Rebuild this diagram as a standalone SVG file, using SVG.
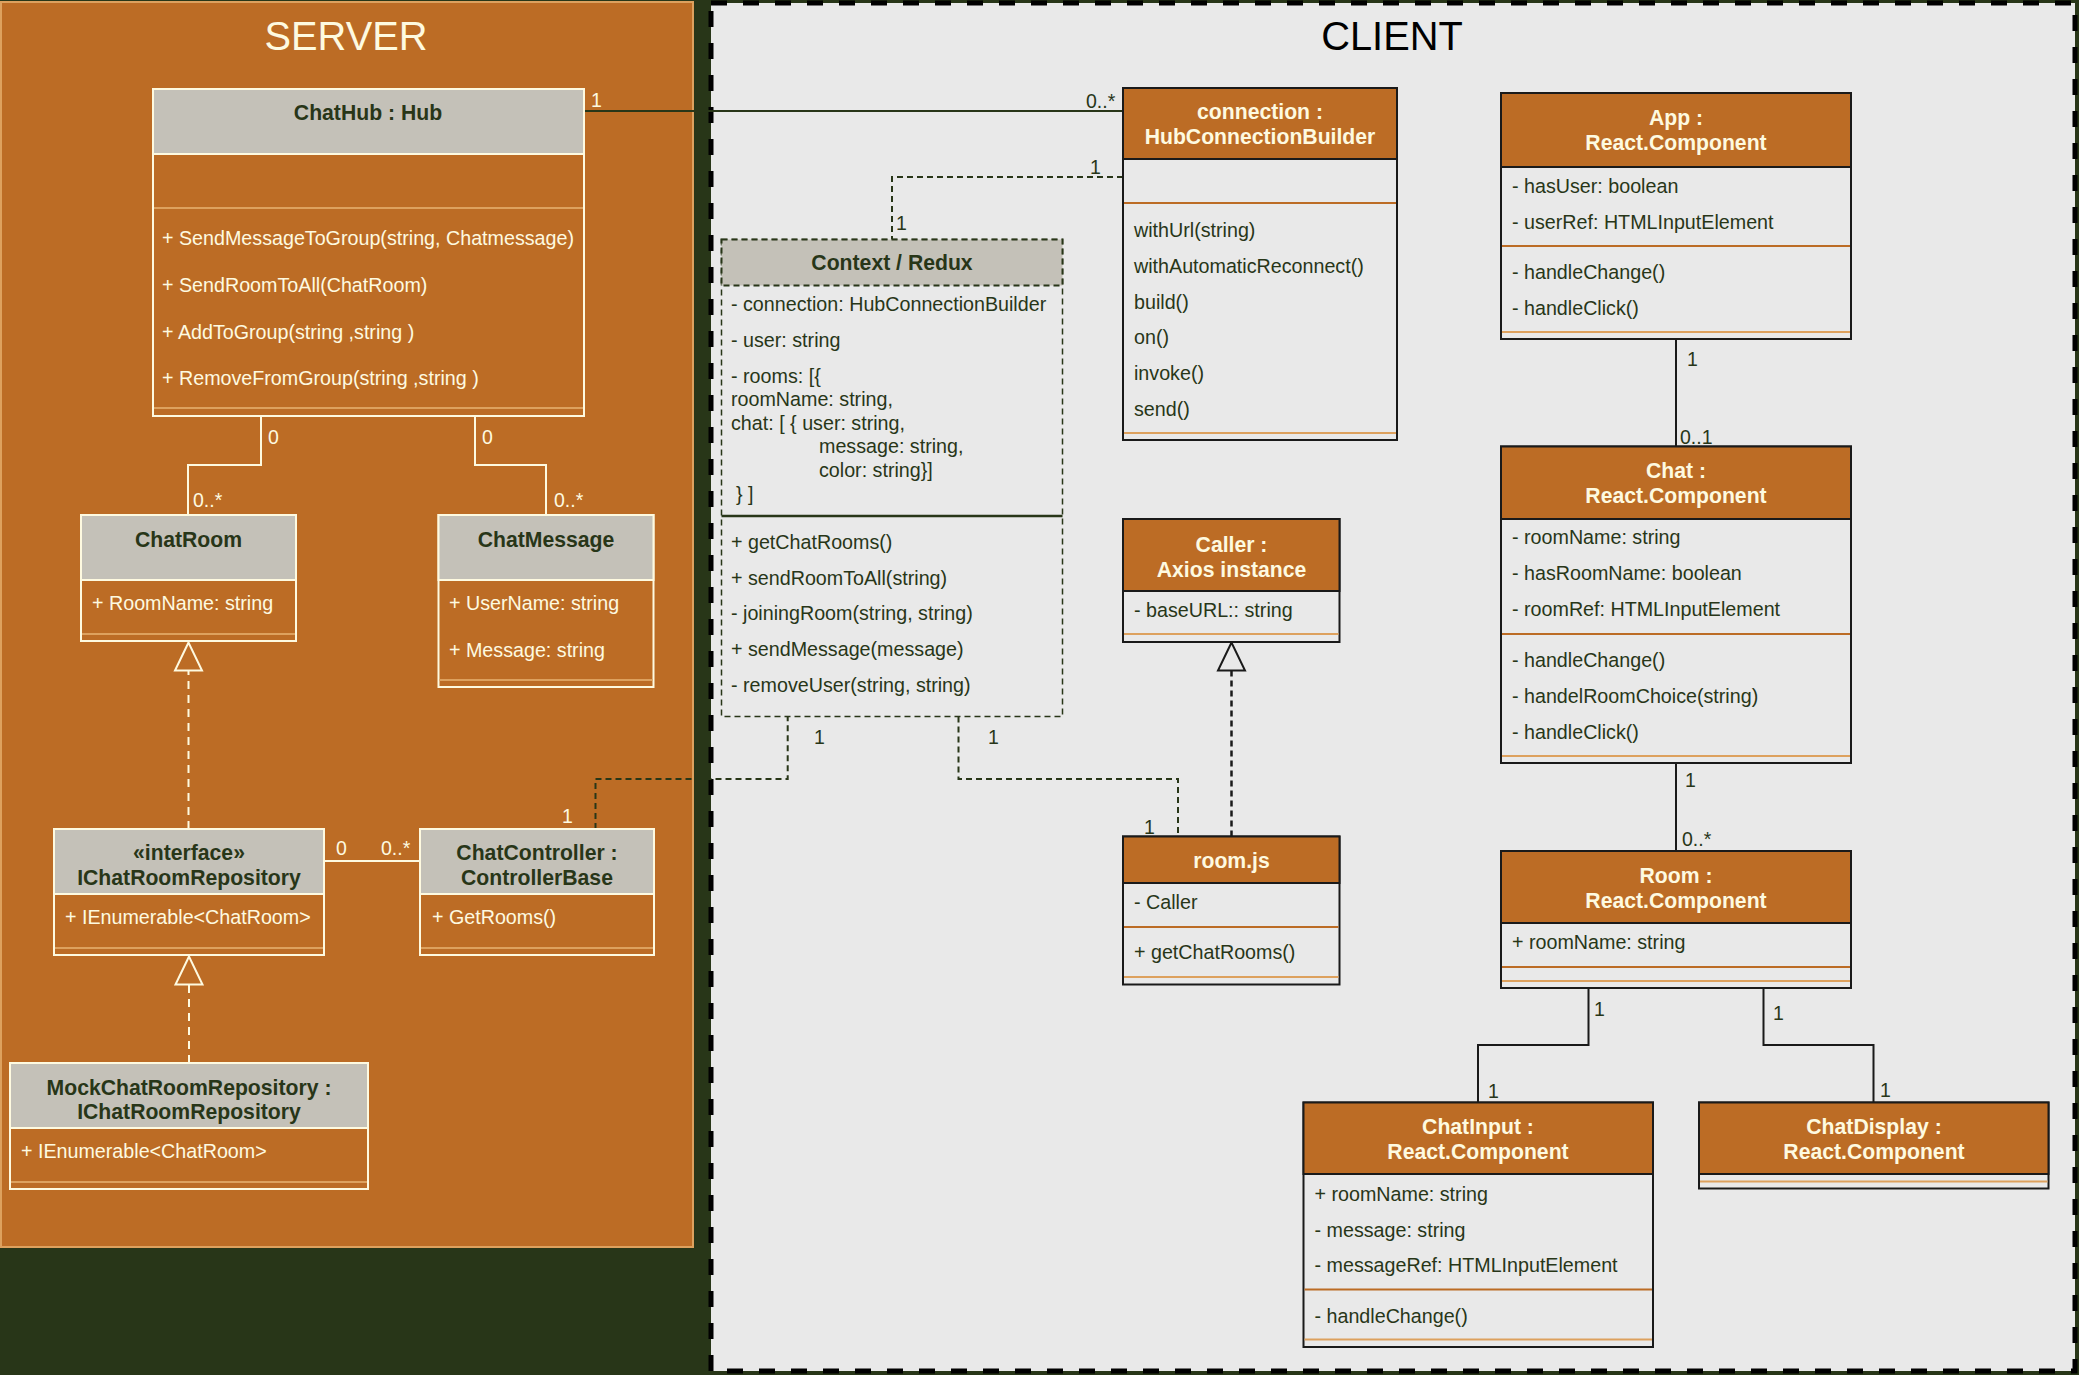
<svg xmlns="http://www.w3.org/2000/svg" width="2079" height="1375" viewBox="0 0 2079 1375">
<style>
text{font-family:"Liberation Sans",Arial,sans-serif}
.t{font-size:19.7px}
.h{font-size:21.2px;font-weight:bold;text-anchor:middle}
.lbl{font-size:19.5px}
.sbox{fill:#bc6c25;stroke:#fefae0;stroke-width:2}
.shead{fill:#c4c1b8;stroke:#fefae0;stroke-width:2}
.ssep{stroke:#dda15e;stroke-width:2}
.st{fill:#fefae0}
.sh{fill:#283618}
.cbox{fill:#e9e9e9;stroke:#1a1a1a;stroke-width:2}
.chead{fill:#bc6c25;stroke:#1a1a1a;stroke-width:2}
.csep{stroke:#bc6c25;stroke-width:2}
.csep2{stroke:#dda15e;stroke-width:2}
.ct{fill:#283618}
.ch{fill:#fefae0}
.e-s{fill:none;stroke:#fefae0;stroke-width:2}
.e-sd{fill:none;stroke:#fefae0;stroke-width:2;stroke-dasharray:8 6}
.e-c{fill:none;stroke:#1a1a1a;stroke-width:2}
.e-g{fill:none;stroke:#283618;stroke-width:2}
.e-gd{fill:none;stroke:#283618;stroke-width:2;stroke-dasharray:6 4}
.e-kd{fill:none;stroke:#1a1a1a;stroke-width:2.5;stroke-dasharray:6 4}
</style>
<rect x="0" y="0" width="2079" height="1375" fill="#283618"/>
<g id="server-area">
<rect x="1" y="2" width="692" height="1245" fill="#bc6c25" stroke="#dda15e" stroke-width="2"/>
<text x="346" y="50" font-size="39.8" text-anchor="middle" fill="#fefae0">SERVER</text>
</g>
<g id="client-area">
<rect x="711" y="3" width="1364" height="1368" fill="#e9e9e9" stroke="#000" stroke-width="5" stroke-dasharray="16 16"/>
<text x="1392" y="50" font-size="39.8" text-anchor="middle" fill="#000">CLIENT</text>
</g>

<g id="connectors">
<path class="e-g" d="M584,111 H1123"/>
<path class="e-gd" d="M1123,177 H892 V239.5"/>
<path class="e-s" d="M261,416 V465 H188 V515"/>
<path class="e-s" d="M475,416 V465 H546 V515"/>
<path class="e-sd" d="M188.5,829 V670.5"/>
<polygon points="188.5,642.5 175,670.5 202,670.5" fill="#bc6c25" stroke="#fefae0" stroke-width="2"/>
<path class="e-sd" d="M189,1063 V984.5"/>
<polygon points="189,956.5 175.5,984.5 202.5,984.5" fill="#bc6c25" stroke="#fefae0" stroke-width="2"/>
<path class="e-s" d="M324,861 H420"/>
<path class="e-gd" d="M595.5,829 V779 H787.7 V716.5"/>
<path class="e-gd" d="M958.5,716.5 V779 H1178 V836.5"/>
<path class="e-kd" d="M1231.5,836.5 V670.5"/>
<polygon points="1231.5,642.5 1218,670.5 1245,670.5" fill="#e9e9e9" stroke="#1a1a1a" stroke-width="2"/>
<path class="e-c" d="M1676,339 V446.5"/>
<path class="e-c" d="M1676,763 V851"/>
<path class="e-c" d="M1588.5,988 V1045 H1478 V1102.5"/>
<path class="e-c" d="M1763.5,988 V1045 H1873.5 V1102.5"/>
<g class="lbl">
<text class="st" x="591" y="107">1</text>
<text class="ct" x="1086" y="108">0..*</text>
<text class="ct" x="1090" y="174">1</text>
<text class="ct" x="896" y="230">1</text>
<text class="st" x="268" y="444">0</text>
<text class="st" x="193" y="507">0..*</text>
<text class="st" x="482" y="444">0</text>
<text class="st" x="554" y="507">0..*</text>
<text class="st" x="336" y="855">0</text>
<text class="st" x="381" y="855">0..*</text>
<text class="st" x="562" y="823">1</text>
<text class="ct" x="814" y="744">1</text>
<text class="ct" x="988" y="744">1</text>
<text class="ct" x="1144" y="834">1</text>
<text class="ct" x="1687" y="366">1</text>
<text class="ct" x="1680" y="444">0..1</text>
<text class="ct" x="1685" y="787">1</text>
<text class="ct" x="1682" y="846">0..*</text>
<text class="ct" x="1594" y="1016">1</text>
<text class="ct" x="1488" y="1098">1</text>
<text class="ct" x="1773" y="1020">1</text>
<text class="ct" x="1880" y="1097">1</text>
</g>
</g>

<g id="chathub">
<rect class="sbox" x="153" y="89" width="431" height="327"/>
<rect class="shead" x="153" y="89" width="431" height="65"/>
<line class="ssep" x1="154" y1="208" x2="583" y2="208"/>
<line class="ssep" x1="154" y1="408" x2="583" y2="408"/>
<text class="h sh" x="368" y="120">ChatHub : Hub</text>
<text class="t st" x="162" y="245">+ SendMessageToGroup(string, Chatmessage)</text>
<text class="t st" x="162" y="292">+ SendRoomToAll(ChatRoom)</text>
<text class="t st" x="162" y="339">+ AddToGroup(string ,string )</text>
<text class="t st" x="162" y="385">+ RemoveFromGroup(string ,string )</text>
</g>

<g id="chatroom">
<rect class="sbox" x="81" y="515" width="215" height="126"/>
<rect class="shead" x="81" y="515" width="215" height="65"/>
<line class="ssep" x1="82" y1="634" x2="295" y2="634"/>
<text class="h sh" x="188.5" y="547">ChatRoom</text>
<text class="t st" x="92" y="610">+ RoomName: string</text>
</g>

<g id="chatmessage">
<rect class="sbox" x="438.5" y="515" width="215" height="172"/>
<rect class="shead" x="438.5" y="515" width="215" height="65"/>
<line class="ssep" x1="439.5" y1="680" x2="652.5" y2="680"/>
<text class="h sh" x="546" y="547">ChatMessage</text>
<text class="t st" x="449" y="610">+ UserName: string</text>
<text class="t st" x="449" y="657">+ Message: string</text>
</g>

<g id="ichatroomrepository">
<rect class="sbox" x="54" y="829" width="270" height="126"/>
<rect class="shead" x="54" y="829" width="270" height="65"/>
<line class="ssep" x1="55" y1="948" x2="323" y2="948"/>
<text class="h sh" x="189" y="860">«interface»</text>
<text class="h sh" x="189" y="885">IChatRoomRepository</text>
<text class="t st" x="65" y="924">+ IEnumerable&lt;ChatRoom&gt;</text>
</g>

<g id="chatcontroller">
<rect class="sbox" x="420" y="829" width="234" height="126"/>
<rect class="shead" x="420" y="829" width="234" height="65"/>
<line class="ssep" x1="421" y1="948" x2="653" y2="948"/>
<text class="h sh" x="537" y="860">ChatController :</text>
<text class="h sh" x="537" y="885">ControllerBase</text>
<text class="t st" x="432" y="924">+ GetRooms()</text>
</g>

<g id="mockchatroomrepository">
<rect class="sbox" x="10" y="1063" width="358" height="126"/>
<rect class="shead" x="10" y="1063" width="358" height="65"/>
<line class="ssep" x1="11" y1="1182" x2="367" y2="1182"/>
<text class="h sh" x="189" y="1095">MockChatRoomRepository :</text>
<text class="h sh" x="189" y="1119">IChatRoomRepository</text>
<text class="t st" x="21" y="1158">+ IEnumerable&lt;ChatRoom&gt;</text>
</g>

<g id="connection">
<rect class="cbox" x="1123" y="88" width="274" height="352"/>
<rect class="chead" x="1123" y="88" width="274" height="71"/>
<line class="csep" x1="1124" y1="203" x2="1396" y2="203"/>
<line class="csep2" x1="1124" y1="433" x2="1396" y2="433"/>
<text class="h ch" x="1260" y="119">connection :</text>
<text class="h ch" x="1260" y="144">HubConnectionBuilder</text>
<text class="t ct" x="1134" y="237">withUrl(string)</text>
<text class="t ct" x="1134" y="273">withAutomaticReconnect()</text>
<text class="t ct" x="1134" y="309">build()</text>
<text class="t ct" x="1134" y="344">on()</text>
<text class="t ct" x="1134" y="380">invoke()</text>
<text class="t ct" x="1134" y="416">send()</text>
</g>

<g id="context-redux">
<rect x="721.5" y="239.5" width="341" height="477" fill="#e9e9e9" stroke="#283618" stroke-width="1.5" stroke-dasharray="6 4"/>
<rect x="721.5" y="239.5" width="341" height="46" fill="#c4c1b8" stroke="#283618" stroke-width="2" stroke-dasharray="6 4"/>
<line x1="721.5" y1="516" x2="1062.5" y2="516" stroke="#283618" stroke-width="2.5"/>
<text class="h sh" x="892" y="270">Context / Redux</text>
<text class="t ct" x="731" y="311">- connection: HubConnectionBuilder</text>
<text class="t ct" x="731" y="347">- user: string</text>
<text class="t ct" x="731" y="383">- rooms: [{</text>
<text class="t ct" x="731" y="406">roomName: string,</text>
<text class="t ct" x="731" y="430">chat: [ { user: string,</text>
<text class="t ct" x="819" y="453">message: string,</text>
<text class="t ct" x="819" y="477">color: string}]</text>
<text class="t ct" x="736" y="501">} ]</text>
<text class="t ct" x="731" y="549">+ getChatRooms()</text>
<text class="t ct" x="731" y="585">+ sendRoomToAll(string)</text>
<text class="t ct" x="731" y="620">- joiningRoom(string, string)</text>
<text class="t ct" x="731" y="656">+ sendMessage(message)</text>
<text class="t ct" x="731" y="692">- removeUser(string, string)</text>
</g>

<g id="caller">
<rect class="cbox" x="1123" y="519" width="216.5" height="123"/>
<rect class="chead" x="1123" y="519" width="216.5" height="72"/>
<line class="csep2" x1="1124" y1="634" x2="1338.5" y2="634"/>
<text class="h ch" x="1231.5" y="552">Caller :</text>
<text class="h ch" x="1231.5" y="577">Axios instance</text>
<text class="t ct" x="1134" y="617">- baseURL:: string</text>
</g>

<g id="roomjs">
<rect class="cbox" x="1123" y="836.5" width="216.5" height="148"/>
<rect class="chead" x="1123" y="836.5" width="216.5" height="46.5"/>
<line class="csep" x1="1124" y1="927" x2="1338.5" y2="927"/>
<line class="csep2" x1="1124" y1="977" x2="1338.5" y2="977"/>
<text class="h ch" x="1231.5" y="868">room.js</text>
<text class="t ct" x="1134" y="909">- Caller</text>
<text class="t ct" x="1134" y="959">+ getChatRooms()</text>
</g>

<g id="app">
<rect class="cbox" x="1501" y="93" width="350" height="246"/>
<rect class="chead" x="1501" y="93" width="350" height="74"/>
<line class="csep" x1="1502" y1="246" x2="1850" y2="246"/>
<line class="csep2" x1="1502" y1="332" x2="1850" y2="332"/>
<text class="h ch" x="1676" y="125">App :</text>
<text class="h ch" x="1676" y="150">React.Component</text>
<text class="t ct" x="1512" y="193">- hasUser: boolean</text>
<text class="t ct" x="1512" y="229">- userRef: HTMLInputElement</text>
<text class="t ct" x="1512" y="279">- handleChange()</text>
<text class="t ct" x="1512" y="315">- handleClick()</text>
</g>

<g id="chat">
<rect class="cbox" x="1501" y="446.5" width="350" height="316.5"/>
<rect class="chead" x="1501" y="446.5" width="350" height="72.5"/>
<line class="csep" x1="1502" y1="634" x2="1850" y2="634"/>
<line class="csep2" x1="1502" y1="756" x2="1850" y2="756"/>
<text class="h ch" x="1676" y="478">Chat  :</text>
<text class="h ch" x="1676" y="503">React.Component</text>
<text class="t ct" x="1512" y="544">- roomName: string</text>
<text class="t ct" x="1512" y="580">- hasRoomName: boolean</text>
<text class="t ct" x="1512" y="616">- roomRef: HTMLInputElement</text>
<text class="t ct" x="1512" y="667">- handleChange()</text>
<text class="t ct" x="1512" y="703">- handelRoomChoice(string)</text>
<text class="t ct" x="1512" y="739">- handleClick()</text>
</g>

<g id="room">
<rect class="cbox" x="1501" y="851" width="350" height="137"/>
<rect class="chead" x="1501" y="851" width="350" height="72"/>
<line class="csep" x1="1502" y1="967" x2="1850" y2="967"/>
<line class="csep2" x1="1502" y1="981" x2="1850" y2="981"/>
<text class="h ch" x="1676" y="883">Room  :</text>
<text class="h ch" x="1676" y="908">React.Component</text>
<text class="t ct" x="1512" y="949">+ roomName: string</text>
</g>

<g id="chatinput">
<rect class="cbox" x="1303.5" y="1102.5" width="349.5" height="244.5"/>
<rect class="chead" x="1303.5" y="1102.5" width="349.5" height="71.5"/>
<line class="csep" x1="1304.5" y1="1289.5" x2="1652" y2="1289.5"/>
<line class="csep2" x1="1304.5" y1="1339.5" x2="1652" y2="1339.5"/>
<text class="h ch" x="1478" y="1134">ChatInput  :</text>
<text class="h ch" x="1478" y="1159">React.Component</text>
<text class="t ct" x="1314.5" y="1201">+ roomName: string</text>
<text class="t ct" x="1314.5" y="1237">- message: string</text>
<text class="t ct" x="1314.5" y="1272">- messageRef: HTMLInputElement</text>
<text class="t ct" x="1314.5" y="1323">- handleChange()</text>
</g>

<g id="chatdisplay">
<rect class="cbox" x="1699" y="1102.5" width="349.5" height="86"/>
<rect class="chead" x="1699" y="1102.5" width="349.5" height="71.5"/>
<line class="csep2" x1="1700" y1="1181.5" x2="2047.5" y2="1181.5"/>
<text class="h ch" x="1874" y="1134">ChatDisplay  :</text>
<text class="h ch" x="1874" y="1159">React.Component</text>
</g>
</svg>
